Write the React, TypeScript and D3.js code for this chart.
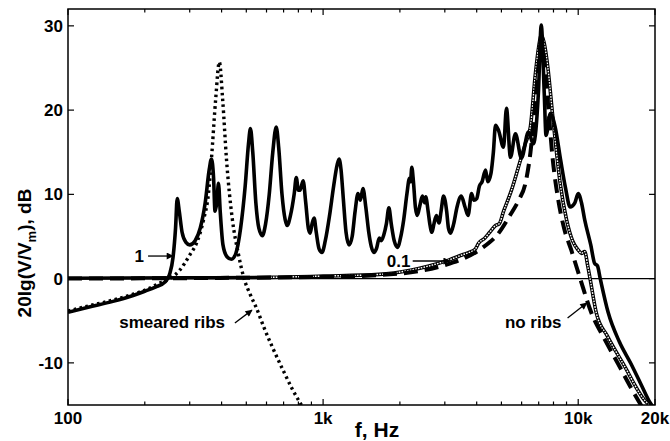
import React, { useEffect } from 'react';
import * as d3 from 'd3';

// curve "1" (ribbed plate)
const ribF = [100, 120, 150, 180, 200, 220, 240, 250, 258, 264, 268, 273, 280, 290, 300, 315, 330, 345, 358, 365, 372, 377, 383, 389, 395, 405, 420, 437, 455, 475, 495, 510, 519, 530, 545, 560, 578, 595, 615, 635, 655, 670, 690, 710, 723, 745, 770, 785, 800, 812, 835, 855, 875, 890, 905, 922, 940, 965, 990, 1020, 1060, 1100, 1135, 1155, 1175, 1200, 1230, 1264, 1300, 1335, 1370, 1400, 1433, 1470, 1510, 1545, 1582, 1620, 1660, 1690, 1730, 1770, 1811, 1850, 1900, 1963, 2010, 2070, 2130, 2180, 2200, 2227, 2260, 2300, 2340, 2400, 2450, 2500, 2525, 2580, 2620, 2670, 2720, 2780, 2848, 2900, 2967, 3050, 3100, 3158, 3250, 3350, 3480, 3600, 3700, 3820, 3900, 4000, 4100, 4200, 4333, 4420, 4550, 4650, 4742, 4870, 5095, 5233, 5425, 5675, 5990, 6380, 6670, 6980, 7165, 7360, 7480, 7776, 8120, 8530, 8900, 9300, 9700, 10000, 10300, 10600, 11200, 11600, 11900, 12200, 13100, 14500, 16100, 17600, 19200, 20000];
const ribDb = [-4.0, -3.4, -2.7, -2.0, -1.5, -1.0, -0.4, 0.5, 2.5, 6, 9.5, 8, 5.5, 4.3, 4.0, 4.5, 6, 9, 13, 14.2, 12, 8, 9, 11.3, 8, 4, 2.6, 2.3, 3, 6, 11, 16, 17.8, 15, 9, 6, 5.1, 6.5, 10, 15, 18, 15.5, 10, 7, 6.3, 7.5, 10, 12.0, 10.5, 10.5, 11.6, 9, 6, 5.4, 6.5, 7.2, 5.5, 3.5, 3.1, 4.5, 7.5, 11, 13.5, 14.2, 13, 9.5, 5.5, 4.0, 5, 8, 10.1, 9.3, 10.7, 8.5, 5.5, 3.8, 3.1, 3.6, 4.8, 4.5, 5.2, 6.5, 8.4, 6.5, 4.5, 3.7, 4.8, 7, 10, 11.9, 11.5, 13.2, 11.5, 8.5, 7.5, 8.8, 9.8, 9.0, 9.7, 8.0, 6.5, 5.5, 6.5, 7.5, 6.6, 8.0, 9.8, 8, 6, 5.4, 6.5, 8.5, 9.8, 8.5, 7.5, 10.1, 9.3, 9.5, 11, 11.5, 12.9, 11.5, 12.5, 15, 18.2, 17.6, 15.6, 20.2, 14.4, 17.2, 14.3, 17.4, 16.0, 22, 30.1, 22, 17, 19.6, 18, 14.1, 10.9, 8.5, 9, 10.1, 9, 7, 4, 1.8, 1.5, 0, -4, -7.5, -10.1, -12.5, -14.8, -15.5];

// smeared ribs
const smearF = [100, 120, 150, 180, 203, 230, 250, 274, 300, 319, 340, 355, 365, 379, 392, 404, 418, 441, 465, 490, 520, 548, 590, 632, 700, 760, 822, 860];
const smearDb = [-3.85, -3.25, -2.55, -1.85, -1.3, -0.5, 0, 1.0, 2.8, 4.2, 7, 10, 14.2, 21.2, 25.7, 21.2, 14.2, 7.0, 3, 0, -2, -3.5, -6, -8.1, -11, -13.2, -15, -16];

// loss factor 0.1
const lossF = [100, 300, 620, 1000, 1655, 2200, 2600, 3106, 3500, 3800, 3950, 4067, 4300, 4500, 4742, 4900, 5100, 5475, 5800, 6200, 6494, 6800, 7000, 7165, 7350, 7600, 7950, 8500, 9000, 9500, 10000, 10300, 10600, 10900, 11130, 11760, 13000, 15000, 18300, 20000];
const lossDb = [0.05, 0.1, 0.15, 0.3, 0.5, 1.0, 1.5, 2.2, 2.8, 3.2, 3.5, 4.2, 4.8, 5.5, 6.3, 6.5, 8, 10.5, 13, 16, 18.0, 24.4, 27.5, 28.9, 28, 25.1, 19.2, 11.3, 7, 4.5, 3.4, 3.0, 3.2, 1.5, 0, -4, -6.8, -10.1, -14.5, -15.5];

// no ribs
const bareF = [100, 1000, 2000, 3000, 3500, 4186, 4876, 5400, 5843, 6209, 6500, 6800, 7000, 7165, 7350, 7600, 7950, 8356, 8800, 9391, 10180, 11240, 12750, 14330, 16000, 17620, 19000];
const bareDb = [0, 0.2, 0.6, 1.6, 2.3, 3.6, 5.4, 7.5, 9.3, 11.3, 15, 21.2, 25.5, 28, 26, 21, 14.1, 9.3, 6, 3.4, 0, -4, -7.3, -10.1, -12.8, -15, -16.5];

const xTicks = [100, 1000, 10000, 20000];
const xTickLabels = ['100', '1k', '10k', '20k'];
const xMinor = [200, 300, 400, 500, 600, 700, 800, 900, 2000, 3000, 4000, 5000, 6000, 7000, 8000, 9000];
const yTicks = [-10, 0, 10, 20, 30];

// annotations: text anchor and arrow in data units
const notes = [
  { text: '1', tf: 190, tdb: 1.97, a: [206, 2.68, 258, 2.68] },
  { text: 'smeared ribs', tf: 256, tdb: -5.86, a: [451, -5.27, 526, -3.74] },
  { text: '0.1', tf: 1978, tdb: 1.38, a: [2245, 2.09, 3137, 2.09] },
  { text: 'no ribs', tf: 6663, tdb: -5.86, a: [9086, -4.68, 10800, -2.9] },
];

const W = 670, H = 441;
const left = 68, right = 655, top = 9, bottom = 405;
const font = "'Liberation Sans', Arial, sans-serif";

export default function App() {
  useEffect(() => {
    document.body.style.margin = '0';
  }, []);

  const x = d3.scaleLog().domain([100, 20000]).range([left, right]);
  const y = d3.scaleLinear().domain([-15, 32]).range([bottom, top]);

  const mk = (fs: number[], ds: number[]) =>
    d3.line<number>()
      .x((_, i) => x(fs[i]))
      .y(d => y(d))
      .curve(d3.curveMonotoneX)(ds) || '';

  const ribPath = mk(ribF, ribDb);
  const smearPath = mk(smearF, smearDb);
  const lossPath = mk(lossF, lossDb);
  const hiIdx = lossF.findIndex(f => f >= 620);
  const lossHiPath = mk(lossF.slice(hiIdx), lossDb.slice(hiIdx));
  const barePath = mk(bareF, bareDb);

  return (
    <svg width={W} height={H} style={{ display: 'block', background: '#fff' }} fontFamily={font}>
      <defs>
        <clipPath id="plot">
          <rect x={left} y={top} width={right - left} height={bottom - top} />
        </clipPath>
        <marker id="arr" viewBox="0 0 10 10" refX="9" refY="5" markerWidth="9" markerHeight="7" markerUnits="userSpaceOnUse" orient="auto">
          <path d="M0,0 L10,5 L0,10 z" fill="#000" />
        </marker>
      </defs>

      {/* zero reference */}
      <line x1={left} x2={right} y1={y(0)} y2={y(0)} stroke="#000" strokeWidth={1.2} />

      <g clipPath="url(#plot)" fill="none">
        <path d={lossPath} stroke="#000" strokeWidth={3.6} />
        <path d={lossHiPath} stroke="#fff" strokeWidth={1.4} strokeDasharray="1.6,1.2" />
        <path d={barePath} stroke="#000" strokeWidth={4} strokeDasharray="14,7" />
        <path d={ribPath} stroke="#000" strokeWidth={3.6} strokeLinejoin="round" />
        <path d={smearPath} stroke="#000" strokeWidth={3.4} strokeDasharray="2.6,3.4" />
      </g>

      {/* frame */}
      <rect x={left} y={top} width={right - left} height={bottom - top} fill="none" stroke="#000" strokeWidth={1.5} />

      {/* x ticks */}
      {xTicks.map((t, i) => (
        <g key={'xt' + t}>
          <line x1={x(t)} x2={x(t)} y1={bottom} y2={bottom - 6} stroke="#000" strokeWidth={1.2} />
          <line x1={x(t)} x2={x(t)} y1={top} y2={top + 6} stroke="#000" strokeWidth={1.2} />
          <text x={x(t)} y={424} textAnchor="middle" fontSize={17} fontWeight="bold">{xTickLabels[i]}</text>
        </g>
      ))}
      {xMinor.map(t => (
        <g key={'xm' + t}>
          <line x1={x(t)} x2={x(t)} y1={bottom} y2={bottom - 3.5} stroke="#000" strokeWidth={1.2} />
          <line x1={x(t)} x2={x(t)} y1={top} y2={top + 3.5} stroke="#000" strokeWidth={1.2} />
        </g>
      ))}

      {/* y ticks */}
      {yTicks.map(t => (
        <g key={'yt' + t}>
          <line x1={left} x2={left + 6} y1={y(t)} y2={y(t)} stroke="#000" strokeWidth={1.2} />
          <line x1={right} x2={right - 6} y1={y(t)} y2={y(t)} stroke="#000" strokeWidth={1.2} />
          <text x={63} y={y(t) + 6} textAnchor="end" fontSize={17} fontWeight="bold">{t}</text>
        </g>
      ))}

      {/* axis titles */}
      <text x={377} y={437} textAnchor="middle" fontSize={21} fontWeight="bold">f, Hz</text>
      <text transform="translate(31,253) rotate(-90)" textAnchor="middle" fontSize={19} fontWeight="bold">
        20lg(V/V<tspan fontSize={13} dy={5}>m</tspan><tspan dy={-5}>), dB</tspan>
      </text>

      {/* annotations */}
      {notes.map(n => (
        <g key={n.text}>
          <text x={x(n.tf)} y={y(n.tdb)} textAnchor="middle" fontSize={17} fontWeight="bold">{n.text}</text>
          <line x1={x(n.a[0])} y1={y(n.a[1])} x2={x(n.a[2])} y2={y(n.a[3])} stroke="#000" strokeWidth={1.3} markerEnd="url(#arr)" />
        </g>
      ))}
    </svg>
  );
}
